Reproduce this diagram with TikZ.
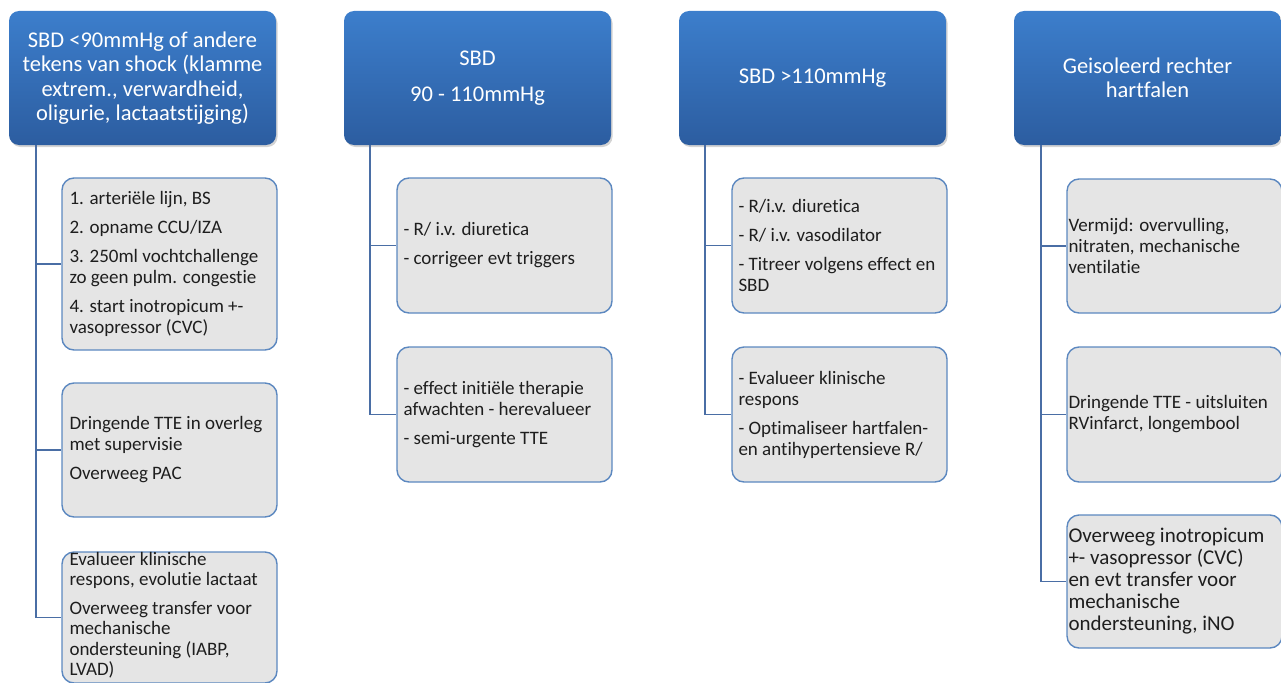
\documentclass[tikz,border=0pt]{standalone}
\usepackage{fontspec}
\setmainfont{Carlito}[Ligatures=NoCommon]
\usetikzlibrary{shadows}
\definecolor{ttop}{RGB}{60,126,204}
\definecolor{tbot}{RGB}{44,93,160}
\definecolor{boxgray}{RGB}{229,229,229}
\definecolor{boxline}{RGB}{92,136,192}
\definecolor{connblue}{RGB}{74,110,165}
\definecolor{txt}{RGB}{30,30,30}
\tikzset{
  titlebox/.style={rounded corners=10pt, top color=ttop, bottom color=tbot, draw=none,
    minimum width=267pt, minimum height=134pt, inner sep=0pt, text=white, align=center,
    font=\fontsize{22.5}{24.5}\selectfont,
    drop shadow={shadow xshift=1.5pt, shadow yshift=-2pt, opacity=0.35}},
  childbox/.style={rounded corners=12pt, fill=boxgray, draw=boxline, line width=1.4pt,
    minimum width=215pt, inner sep=0pt},
  ctext/.style={anchor=west, align=left, inner sep=0pt, text=txt,
    font=\fontsize{19}{21}\selectfont},
  conn/.style={draw=connblue, line width=1.8pt}
}
\begin{document}
\begin{tikzpicture}[x=1pt,y=-1pt]
\useasboundingbox (0,0) rectangle (1281,682);
% title boxes
\node[titlebox] (T1) at (142.5,78) {SBD <90mmHg of andere\\tekens van shock (klamme\\extrem., verwardheid,\\oligurie, lactaatstijging)};
\node[titlebox] (T2) at (477.5,78) {SBD\\[11.5pt]90 - 110mmHg};
\node[titlebox] (T3) at (812.5,78) {SBD >110mmHg};
\node[titlebox] (T4) at (1147.5,78) {Geisoleerd rechter\\hartfalen};
% spine coordinates
\coordinate (s1) at (36,145);
\coordinate (s2) at (370,145);
\coordinate (s3) at (705,145);
\coordinate (s4) at (1041,145);
% column 1
\node[childbox, minimum height=172pt] (c11) at (169.5,264) {};
\node[childbox, minimum height=134pt] (c12) at (169.5,450) {};
\node[childbox, minimum height=131pt] (c13) at (169.5,617.5) {};
% column 2
\node[childbox, minimum height=135pt] (c21) at (504.5,245.5) {};
\node[childbox, minimum height=135pt] (c22) at (504.5,414.5) {};
% column 3
\node[childbox, minimum height=135pt] (c31) at (839.5,245.5) {};
\node[childbox, minimum height=135pt] (c32) at (839.5,414.5) {};
% column 4
\node[childbox, minimum height=134pt] (c41) at (1174.5,246) {};
\node[childbox, minimum height=135pt] (c42) at (1174.5,414.5) {};
\node[childbox, minimum height=133pt] (c43) at (1174.5,581.5) {};
% texts
\node[ctext] (x11) at ([xshift=8pt]c11.west) {1. arteriële lijn, BS\\[8pt]2. opname CCU/IZA\\[8pt]3. 250ml vochtchallenge\\zo geen pulm. congestie\\[8pt]4. start inotropicum +-\\vasopressor (CVC)};
\node[ctext] (x12) at ([xshift=8pt]c12.west) {Dringende TTE in overleg\\met supervisie\\[8pt]Overweeg PAC};
\node[ctext, font=\fontsize{19}{20.5}\selectfont] (x13) at ([xshift=8pt,yshift=2.5pt]c13.west) {Evalueer klinische\\respons, evolutie lactaat\\[8pt]Overweeg transfer voor\\mechanische\\ondersteuning (IABP,\\LVAD)};
\node[ctext] (x21) at ([xshift=7pt]c21.west) {- R/ i.v. diuretica\\[8pt]- corrigeer evt triggers};
\node[ctext] (x22) at ([xshift=7pt]c22.west) {- effect initiële therapie\\afwachten - herevalueer\\[8pt]- semi-urgente TTE};
\node[ctext] (x31) at ([xshift=7pt]c31.west) {- R/i.v. diuretica\\[8pt]- R/ i.v. vasodilator\\[8pt]- Titreer volgens effect en\\SBD};
\node[ctext] (x32) at ([xshift=7pt]c32.west) {- Evalueer klinische\\respons\\[8pt]- Optimaliseer hartfalen-\\en antihypertensieve R/};
\node[ctext] (x41) at ([xshift=2pt]c41.west) {Vermijd: overvulling,\\nitraten, mechanische\\ventilatie};
\node[ctext] (x42) at ([xshift=2pt]c42.west) {Dringende TTE - uitsluiten\\RVinfarct, longembool};
\node[ctext, font=\fontsize{21}{22}\selectfont] (x43) at ([xshift=2pt]c43.west) {Overweeg inotropicum\\+- vasopressor (CVC)\\en evt transfer voor\\mechanische\\ondersteuning, iNO};
% connectors
\draw[conn] (s1) |- (c13.west);
\draw[conn] (s1 |- c11.west) -- (c11.west);
\draw[conn] (s1 |- c12.west) -- (c12.west);
\draw[conn] (s2) |- (c22.west);
\draw[conn] (s2 |- c21.west) -- (c21.west);
\draw[conn] (s3) |- (c32.west);
\draw[conn] (s3 |- c31.west) -- (c31.west);
\draw[conn] (s4) |- (c43.west);
\draw[conn] (s4 |- c41.west) -- (c41.west);
\draw[conn] (s4 |- c42.west) -- (c42.west);
\end{tikzpicture}
\end{document}
